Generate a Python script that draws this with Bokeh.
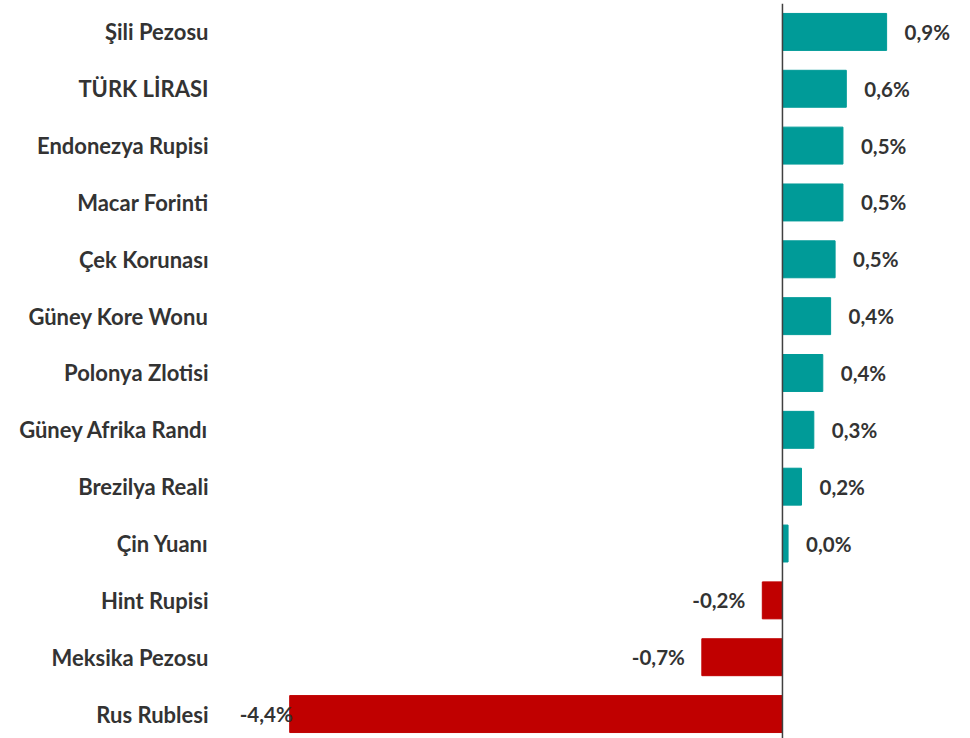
from bokeh.plotting import figure
from bokeh.models import Range1d, FixedTicker, ColumnDataSource, Span
from bokeh.embed import file_html
from bokeh.resources import INLINE
from bokeh.core.properties import value

categories = ["Şili Pezosu", "TÜRK LİRASI", "Endonezya Rupisi", "Macar Forinti",
              "Çek Korunası", "Güney Kore Wonu", "Polonya Zlotisi", "Güney Afrika Randı",
              "Brezilya Reali", "Çin Yuanı", "Hint Rupisi", "Meksika Pezosu", "Rus Rublesi"]
values = [0.93, 0.57, 0.54, 0.54, 0.47, 0.43, 0.36, 0.28, 0.17, 0.05, -0.18, -0.72, -4.40]
labels = ["0,9%", "0,6%", "0,5%", "0,5%", "0,5%", "0,4%", "0,4%", "0,3%",
          "0,2%", "0,0%", "-0,2%", "-0,7%", "-4,4%"]

POS = "#009B98"
NEG = "#C00000"
TXT = "#333333"
FONT = "Lato"

n = len(categories)
ys = list(range(n))
vmin = min(values)
colors = [POS if v >= 0 else NEG for v in values]
aligns, offs = [], []
for v in values:
    if v >= 0:
        aligns.append("left"); offs.append(18)
    elif v == vmin:
        aligns.append("right"); offs.append(3)
    else:
        aligns.append("right"); offs.append(-17)

src = ColumnDataSource(dict(y=ys, v=values, c=colors, lab=labels, al=aligns, off=offs))

p = figure(width=970, height=738, output_backend="svg", toolbar_location=None,
           x_range=Range1d(-5.0, 1.679), y_range=Range1d(12.43, -0.5),
           min_border_left=222, min_border_right=0, min_border_top=3, min_border_bottom=0)
p.outline_line_color = None
p.background_fill_color = "white"
p.border_fill_color = "white"
p.grid.visible = False
p.xaxis.visible = False

p.hbar(y="y", left=0, right="v", height=0.65, color="c", source=src)
p.add_layout(Span(location=0, dimension="height", line_color="#404040", line_width=1.5))

p.text(x="v", y="y", text="lab", text_align="al", x_offset="off", text_baseline="middle",
       text_font=value(FONT), text_font_style="bold", text_font_size="20.5px",
       text_color=TXT, source=src)

ax = p.yaxis[0]
ax.ticker = FixedTicker(ticks=ys)
ax.major_label_overrides = {i: c for i, c in enumerate(categories)}
ax.axis_line_color = None
ax.major_tick_line_color = None
ax.minor_tick_line_color = None
ax.major_tick_out = 0
ax.major_tick_in = 0
ax.major_label_standoff = 14
ax.major_label_text_font = FONT
ax.major_label_text_font_style = "bold"
ax.major_label_text_font_size = "22px"
ax.major_label_text_color = TXT

open("out.html", "w").write(file_html(p, INLINE))
